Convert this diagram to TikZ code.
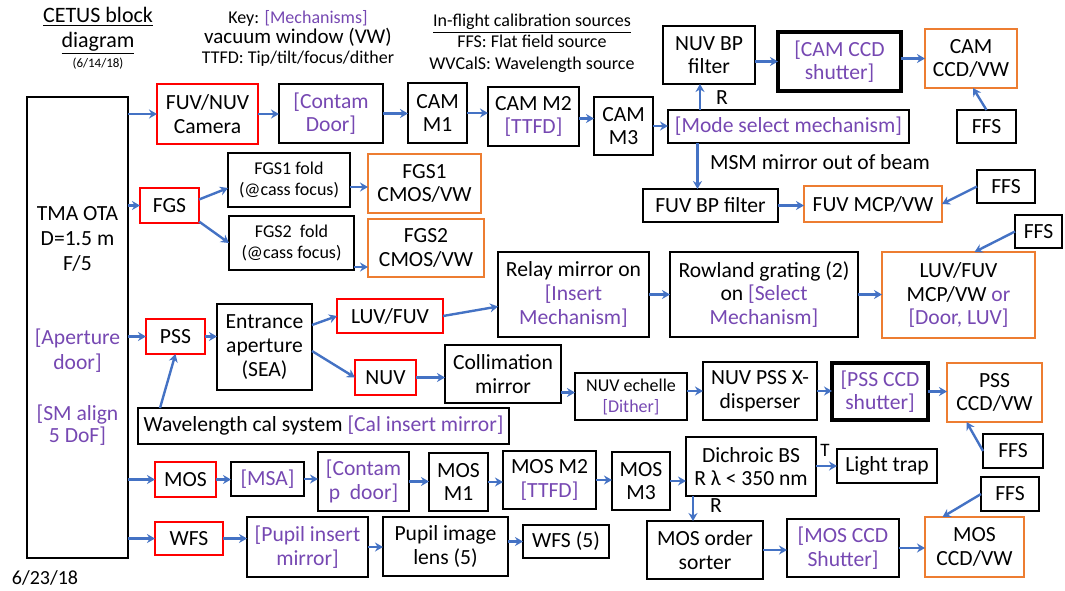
\documentclass[tikz,border=0pt]{standalone}
\usepackage{fontspec}
\setmainfont{Carlito}
\usetikzlibrary{arrows.meta}
\definecolor{arrowblue}{RGB}{68,114,196}
\definecolor{boxred}{RGB}{255,0,0}
\definecolor{boxorange}{RGB}{237,125,49}
\definecolor{mechpurple}{RGB}{118,72,178}
\newcommand\mch[1]{\textcolor{mechpurple}{#1}}
\newcommand\mkbox[7]{\node[#2, minimum width={(#5-#3)*0.5pt}, minimum height={(#6-#4)*0.5pt}] (#1) at ({(#3+#5)/2},{(#4+#6)/2}) {#7};}
\tikzset{
  base/.style={inner sep=0pt, outer sep=0pt, align=center, font=\fontsize{10.8}{11.8}\selectfont},
  kbox/.style={base, draw=black, line width=0.9pt},
  tbox/.style={base, draw=black, line width=1.6pt},
  rbox/.style={base, draw=boxred, line width=1.4pt},
  obox/.style={base, draw=boxorange, line width=1.4pt},
  fsmall/.style={font=\fontsize{9}{10.5}\selectfont},
  fech/.style={font=\fontsize{9}{10.5}\selectfont},
  txt/.style={inner sep=0pt, align=center, font=\fontsize{10.8}{12.5}\selectfont},
  arr/.style={draw=arrowblue, line width=1.2pt, -{Stealth[length=4pt,width=4.5pt]}}
}
\begin{document}
\begin{tikzpicture}[x=0.5pt,y=-0.5pt]
\useasboundingbox (0,0) rectangle (1065,590);
% header texts
\node[txt, font=\fontsize{11}{12.5}\selectfont] (title) at (98,31) {\underline{CETUS block}\\\underline{diagram}};
\node[txt, font=\fontsize{6.5}{7}\selectfont] (dateA) at (98,64) {(6/14/18)};
\node[txt, font=\fontsize{9}{10}\selectfont] (key) at (298,38) {Key: \mch{[Mechanisms]}\\{\fontsize{10.5}{10}\selectfont vacuum window (VW)}\\TTFD: Tip/tilt/focus/dither};
\node[txt, font=\fontsize{9}{10.75}\selectfont] (cal) at (532,43) {\underline{In-flight calibration sources}\\FFS: Flat field source\\WVCalS: Wavelength source};
\node[txt, font=\fontsize{10}{11}\selectfont] (dateB) at (45,578) {6/23/18};
% TMA
\mkbox{tma}{kbox}{27}{97}{128}{558}{}
\node[txt] (tmat) at (77.5,239) {TMA OTA\\D=1.5 m\\F/5};
\node[txt] (aper) at (77.5,351) {\mch{[Aperture}\\\mch{door]}};
\node[txt, font=\fontsize{10.8}{11}\selectfont] (smal) at (77.5,425) {\mch{[SM align}\\\mch{5 DoF]}};
% camera row
\mkbox{cam}{rbox}{157}{84}{258}{144}{FUV/NUV\\Camera}
\mkbox{contam}{kbox}{279}{84}{383}{143}{\mch{[Contam}\\\mch{Door]}}
\mkbox{camone}{kbox}{408}{83}{467}{143}{CAM\\M1}
\mkbox{camtwo}{kbox}{488}{87}{579}{146}{CAM M2\\\mch{[TTFD]}}
\mkbox{camthree}{kbox}{594}{97}{653}{155}{CAM\\M3}
\mkbox{msm}{kbox}{668}{110}{909}{143}{\mch{[Mode select mechanism]}}
\mkbox{nuvbp}{kbox}{663}{26}{755}{84}{NUV BP\\filter}
\mkbox{camshut}{tbox}{778}{32}{901}{91}{\mch{[CAM CCD}\\\mch{shutter]}}
\mkbox{camccd}{obox}{925}{29}{1017}{88}{CAM\\CCD/VW}
\mkbox{ffsa}{kbox}{957}{110}{1016}{143}{FFS}
\mkbox{fuvbp}{kbox}{643}{189}{778}{222}{FUV BP filter}
\mkbox{fuvmcp}{obox}{804}{186}{942}{222}{FUV MCP/VW}
\mkbox{ffsb}{kbox}{977}{170}{1035}{203}{FFS}
\mkbox{ffsc}{kbox}{1015}{215}{1062}{248}{FFS}
\node[txt] (lra) at (722,98) {R};
\node[txt] (msmlab) at (820,162) {MSM mirror out of beam};
% FGS
\mkbox{fgs}{rbox}{140}{188}{199}{223}{FGS}
\mkbox{fgsa}{kbox,fsmall}{228}{153}{350}{207}{FGS1 fold\\(@cass focus)}
\mkbox{fgsb}{kbox,fsmall}{229}{216}{354}{270}{FGS2\ \ fold\\(@cass focus)}
\mkbox{cmosa}{obox}{368}{154}{481}{213}{FGS1\\CMOS/VW}
\mkbox{cmosb}{obox}{368}{219}{484}{277}{FGS2\\CMOS/VW}
% PSS
\mkbox{pss}{rbox}{146}{319}{205}{354}{PSS}
\mkbox{ent}{kbox}{217}{304}{312}{390}{Entrance\\aperture\\(SEA)}
\mkbox{luvfuv}{rbox}{337}{299}{443}{333}{LUV/FUV}
\mkbox{nuv}{rbox}{355}{360}{416}{395}{NUV}
\mkbox{relay}{kbox}{498}{252}{649}{337}{Relay mirror on\\\mch{[Insert}\\\mch{Mechanism]}}
\mkbox{rowland}{kbox}{670}{252}{858}{337}{Rowland grating (2)\\on \mch{[Select}\\\mch{Mechanism]}}
\mkbox{luvmcp}{obox}{882}{252}{1035}{338}{LUV/FUV\\MCP/VW \mch{or}\\\mch{[Door, LUV]}}
\mkbox{coll}{kbox}{445}{345}{561}{403}{Collimation\\mirror}
\mkbox{ech}{kbox,fech}{575}{373}{687}{420}{NUV echelle\\\mch{[Dither]}}
\mkbox{xdisp}{kbox}{703}{362}{817}{420}{NUV PSS X-\\disperser}
\mkbox{pssshut}{tbox}{832}{363}{928}{420}{\mch{[PSS CCD}\\\mch{shutter]}}
\mkbox{pssccd}{obox}{947}{363}{1042}{422}{PSS\\CCD/VW}
\mkbox{ffsd}{kbox}{983}{434}{1043}{468}{FFS}
\mkbox{wcal}{kbox}{138}{408}{509}{444}{Wavelength cal system \mch{[Cal insert mirror]}}
% MOS
\mkbox{mos}{rbox}{155}{462}{216}{497}{MOS}
\mkbox{msa}{kbox}{231}{462}{304}{496}{\mch{[MSA]}}
\mkbox{contamb}{kbox}{318}{452}{409}{511}{\mch{[Contam}\\\mch{p\ \ door]}}
\mkbox{mosa}{kbox}{429}{453}{488}{511}{MOS\\M1}
\mkbox{mosb}{kbox}{503}{451}{596}{509}{MOS M2\\\mch{[TTFD]}}
\mkbox{mosc}{kbox}{612}{452}{670}{510}{MOS\\M3}
\mkbox{dich}{kbox}{686}{437}{816}{496}{Dichroic BS\\R λ < 350 nm}
\mkbox{trap}{kbox}{837}{449}{937}{483}{Light trap}
\mkbox{ffse}{kbox}{981}{477}{1039}{511}{FFS}
\mkbox{sorter}{kbox}{647}{521}{763}{579}{MOS order\\sorter}
\mkbox{mosshut}{kbox}{787}{519}{899}{577}{\mch{[MOS CCD}\\\mch{Shutter]}}
\mkbox{mosccd}{obox}{925}{517}{1024}{577}{MOS\\CCD/VW}
\node[txt, font=\fontsize{9.5}{10}\selectfont] (lt) at (825,450) {T};
\node[txt] (lrb) at (716,506) {R};
% WFS
\mkbox{wfs}{rbox}{155}{522}{223}{555}{WFS}
\mkbox{pins}{kbox}{247}{517}{368}{577}{\mch{[Pupil insert}\\\mch{mirror]}}
\mkbox{pimg}{kbox}{383}{517}{508}{576}{Pupil image\\lens (5)}
\mkbox{wfsf}{kbox}{523}{525}{609}{558}{WFS (5)}
% arrows
\draw[arr] (tma.east |- cam.west) -- (cam.west);
\draw[arr] (cam.east) -- (cam.east -| contam.west);
\draw[arr] (contam.east) -- (contam.east -| camone.west);
\draw[arr] (camone.east) -- (camone.east -| camtwo.west);
\draw[arr] ([yshift=-1pt]camtwo.east) -- ([yshift=-1pt]camtwo.east -| camthree.west);
\draw[arr] (camthree.east) -- (camthree.east -| msm.west);
\draw[arr] ([xshift=-4.5pt]nuvbp.south |- msm.north) -- ([xshift=-4.5pt]nuvbp.south);
\draw[arr] (nuvbp.east |- camshut.west) -- (camshut.west);
\draw[arr] (camshut.east |- camccd.west) -- (camccd.west);
\draw[arr] (ffsa.north) -- ([xshift=1pt]camccd.south);
\draw[arr] ([xshift=-6.5pt]fuvbp.north |- msm.south) -- ([xshift=-6.5pt]fuvbp.north);
\draw[arr] (fuvbp.east) -- (fuvbp.east -| fuvmcp.west);
\draw[arr] (ffsb.west) -- (fuvmcp.east);
\draw[arr] (ffsc.west) -- ([xshift=8pt]luvmcp.north);
\draw[arr] (rowland.east) -- (rowland.east -| luvmcp.west);
\draw[arr] (relay.east) -- (relay.east -| rowland.west);
\draw[arr] (luvfuv.east) -- ([yshift=-6pt]relay.west);
\draw[arr] (tma.east |- fgs.west) -- (fgs.west);
\draw[arr] ([yshift=3pt]fgs.east) -- ([yshift=-4pt]fgsa.west);
\draw[arr] ([yshift=-8pt]fgs.east) -- (fgsb.west);
\draw[arr] ([yshift=-3.5pt]fgsa.east) -- ([yshift=-3.5pt]fgsa.east -| cmosa.west);
\draw[arr] ([yshift=-12pt]fgsb.east) -- ([yshift=-12pt]fgsb.east -| cmosb.west);
\draw[arr] (tma.east |- pss.west) -- (pss.west);
\draw[arr] (pss.east) -- (pss.east -| ent.west);
\draw[arr] ([yshift=11pt]ent.east) -- (luvfuv.west);
\draw[arr] ([yshift=-2pt]ent.east) -- (nuv.west);
\draw[arr] (nuv.east) -- (nuv.east -| coll.west);
\draw[arr] ([yshift=2pt]ech.west -| coll.east) -- ([yshift=2pt]ech.west);
\draw[arr] (ech.east |- xdisp.west) -- (xdisp.west);
\draw[arr] (xdisp.east) -- (xdisp.east -| pssshut.west);
\draw[arr] (pssshut.east) -- (pssshut.east -| pssccd.west);
\draw[arr] (ffsd.west) -- ([xshift=-14pt]pssccd.south);
\draw[arr] ([xshift=11pt]wcal.north west) -- (pss.south);
\draw[arr] (tma.east |- mos.west) -- (mos.west);
\draw[arr] (mos.east) -- (mos.east -| msa.west);
\draw[arr] (msa.east) -- (msa.east -| contamb.west);
\draw[arr] (contamb.east) -- (contamb.east -| mosa.west);
\draw[arr] (mosa.east) -- (mosa.east -| mosb.west);
\draw[arr] (mosb.east) -- (mosb.east -| mosc.west);
\draw[arr] (mosc.east) -- (mosc.east -| dich.west);
\draw[arr] (dich.east |- trap.west) -- (trap.west);
\draw[arr] ([xshift=-6pt]sorter.north |- dich.south) -- ([xshift=-6pt]sorter.north);
\draw[arr] (sorter.east) -- (sorter.east -| mosshut.west);
\draw[arr] (mosshut.east) -- (mosshut.east -| mosccd.west);
\draw[arr] (ffse.west) -- ([xshift=-16pt]mosccd.north);
\draw[arr] (tma.east |- wfs.west) -- (wfs.west);
\draw[arr] (wfs.east) -- (wfs.east -| pins.west);
\draw[arr] (pins.east) -- (pins.east -| pimg.west);
\draw[arr] (wfsf.west -| pimg.east) -- (wfsf.west);
\end{tikzpicture}
\end{document}
